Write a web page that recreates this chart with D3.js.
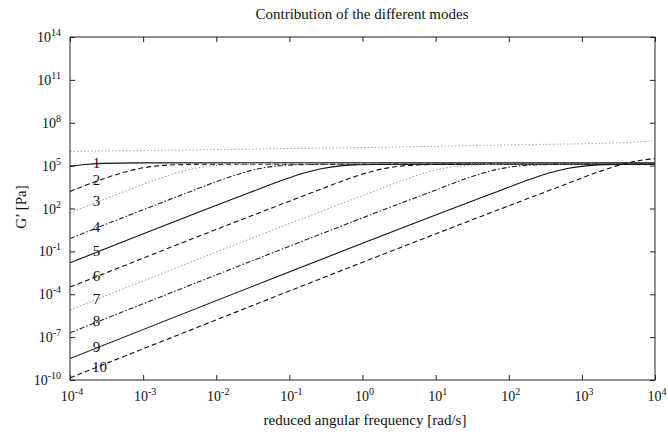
<!DOCTYPE html>
<html>
<head>
<meta charset="utf-8">
<script src="https://cdn.jsdelivr.net/npm/d3@7"></script>
<style>
  html, body { margin: 0; padding: 0; background: #fff; }
  svg { display: block; }
  text { font-family: "Liberation Serif", "DejaVu Serif", serif; fill: #111; }
</style>
</head>
<body>
<svg id="chart" width="668" height="440"></svg>
<script>
// Storage modulus G' of each relaxation mode versus reduced angular frequency.
const modeNames = ["1", "2", "3", "4", "5", "6", "7", "8", "9", "10"];

const mode1Freq = [1e-4, 1.585e-4, 2.82e-4, 8.91e-4, 1e4];
const mode1G    = [8.83e4, 1.205e5, 1.44e5, 1.57e5, 1.58e5];

const mode2Freq = [1e-4, 2.82e-4, 5.01e-4, 8.91e-4, 1.585e-3, 2.82e-3, 8.91e-3, 1e4];
const mode2G    = [1.57e3, 1.15e4, 3.03e4, 6.30e4, 9.57e4, 1.15e5, 1.25e5, 1.26e5];

const mode3Freq = [1e-4, 5.01e-4, 1.585e-3, 2.82e-3, 5.01e-3, 8.91e-3, 1.585e-2, 5.01e-2, 1e4];
const mode3G    = [50, 1.25e3, 1.15e4, 3.03e4, 6.30e4, 9.57e4, 1.15e5, 1.25e5, 1.26e5];

const mode4Freq = [1e-4, 3.98e-3, 1.26e-2, 2.24e-2, 3.98e-2, 7.08e-2, 0.126, 0.398, 1e4];
const mode4G    = [0.79, 1.25e3, 1.15e4, 3.03e4, 6.30e4, 9.57e4, 1.15e5, 1.25e5, 1.26e5];

const mode5Freq = [1e-4, 2.82e-2, 8.91e-2, 0.158, 0.282, 0.501, 0.891, 2.82, 1e4];
const mode5G    = [1.585e-2, 1.25e3, 1.15e4, 3.03e4, 6.30e4, 9.57e4, 1.15e5, 1.25e5, 1.26e5];

const mode6Freq = [1e-4, 0.2, 0.631, 1.12, 2.0, 3.55, 6.31, 20, 1e4];
const mode6G    = [3.16e-4, 1.25e3, 1.15e4, 3.03e4, 6.30e4, 9.57e4, 1.15e5, 1.25e5, 1.26e5];

const mode7Freq = [1e-4, 1.26, 3.98, 7.08, 12.6, 22.4, 39.8, 126, 1e4];
const mode7G    = [7.94e-6, 1.25e3, 1.15e4, 3.03e4, 6.30e4, 9.57e4, 1.15e5, 1.25e5, 1.26e5];

const mode8Freq = [1e-4, 7.94, 25.1, 44.7, 79.4, 141, 251, 794, 1e4];
const mode8G    = [2.0e-7, 1.25e3, 1.15e4, 3.03e4, 6.30e4, 9.57e4, 1.15e5, 1.25e5, 1.26e5];

const mode9Freq = [1e-4, 63.1, 200, 355, 631, 1122, 1995, 6310, 1e4];
const mode9G    = [3.16e-9, 1.25e3, 1.15e4, 3.03e4, 6.30e4, 9.57e4, 1.15e5, 1.25e5, 1.26e5];

const mode10Freq = [1e-4, 531, 1679, 2985, 5309, 1e4];
const mode10G    = [1.41e-10, 3.94e3, 3.62e4, 9.57e4, 1.99e5, 3.1e5];

// Overall G' curve drawn above the individual modes
const totalFreq = [1e-4, 1e-3, 1e-2, 0.1, 1, 10, 100, 1e3, 3162, 1e4];
const totalG    = [1.0e6, 1.15e6, 1.32e6, 1.55e6, 1.86e6, 2.24e6, 2.82e6, 3.39e6, 3.98e6, 5.37e6];

const xTickValues = [1e-4, 1e-3, 1e-2, 1e-1, 1e0, 1e1, 1e2, 1e3, 1e4];
const yTickValues = [1e-10, 1e-7, 1e-4, 1e-1, 1e2, 1e5, 1e8, 1e11, 1e14];

const modes = [
  [mode1Freq, mode1G], [mode2Freq, mode2G], [mode3Freq, mode3G], [mode4Freq, mode4G],
  [mode5Freq, mode5G], [mode6Freq, mode6G], [mode7Freq, mode7G], [mode8Freq, mode8G],
  [mode9Freq, mode9G], [mode10Freq, mode10G]
].map(([f, g], i) => ({ name: modeNames[i], points: f.map((w, j) => [w, g[j]]) }));

// Line style cycle: solid, dashed, dotted, dash-dot
const styleCycle = [
  { color: "#111", dash: null, width: 1.1 },
  { color: "#111", dash: "5,3", width: 1.1 },
  { color: "#9a9a9a", dash: "1.5,2", width: 1 },
  { color: "#222", dash: "5,2,1.5,2", width: 1.1 }
];

const frameLeft = 70, frameRight = 655, frameTop = 37, frameBottom = 380;
const svg = d3.select("#chart");

const x = d3.scaleLog().domain([1e-4, 1e4]).range([frameLeft, frameRight]);
const y = d3.scaleLog().domain([1e-10, 1e14]).range([frameBottom, frameTop]);

const line = d3.line()
  .x(d => x(d[0]))
  .y(d => y(d[1]))
  .curve(d3.curveMonotoneX);

svg.append("defs").append("clipPath").attr("id", "clip")
  .append("rect")
  .attr("x", frameLeft).attr("y", frameTop)
  .attr("width", frameRight - frameLeft).attr("height", frameBottom - frameTop);

const curves = svg.append("g").attr("clip-path", "url(#clip)");

curves.append("path")
  .datum(totalFreq.map((w, j) => [w, totalG[j]]))
  .attr("d", line)
  .attr("fill", "none")
  .attr("stroke", "#a8a8a8")
  .attr("stroke-width", 1)
  .attr("stroke-dasharray", "1.5,2");

modes.forEach((m, i) => {
  const s = styleCycle[i % styleCycle.length];
  curves.append("path")
    .datum(m.points)
    .attr("d", line)
    .attr("fill", "none")
    .attr("stroke", s.color)
    .attr("stroke-width", s.width)
    .attr("stroke-dasharray", s.dash);
});

// Mode numbers placed on their curves near the left edge
const labelFreq = 2.3e-4;
modes.forEach(m => {
  const px = m.points.map(p => x(p[0]));
  const py = m.points.map(p => y(p[1]));
  const along = d3.scaleLinear().domain(px).range(py);
  const lx = x(labelFreq) + (m.name.length > 1 ? 3 : 0);
  svg.append("text")
    .attr("x", lx)
    .attr("y", along(x(labelFreq)) + 4)
    .attr("text-anchor", "middle")
    .attr("font-size", 15)
    .text(m.name);
});

// Frame with inward ticks on all four sides
svg.append("rect")
  .attr("x", frameLeft).attr("y", frameTop)
  .attr("width", frameRight - frameLeft).attr("height", frameBottom - frameTop)
  .attr("fill", "none").attr("stroke", "#222").attr("stroke-width", 1);

function styleAxis(g) {
  g.select(".domain").remove();
  g.selectAll(".tick line").attr("stroke", "#222");
}

svg.append("g").attr("transform", `translate(0,${frameBottom})`)
  .call(d3.axisBottom(x).tickValues(xTickValues).tickSize(-5).tickFormat(""))
  .call(styleAxis);
svg.append("g").attr("transform", `translate(0,${frameTop})`)
  .call(d3.axisTop(x).tickValues(xTickValues).tickSize(-5).tickFormat(""))
  .call(styleAxis);
svg.append("g").attr("transform", `translate(${frameLeft},0)`)
  .call(d3.axisLeft(y).tickValues(yTickValues).tickSize(-5).tickFormat(""))
  .call(styleAxis);
svg.append("g").attr("transform", `translate(${frameRight},0)`)
  .call(d3.axisRight(y).tickValues(yTickValues).tickSize(-5).tickFormat(""))
  .call(styleAxis);

// Power-of-ten tick labels
const exponent = v => Math.round(Math.log10(v));

function powerLabel(sel, v) {
  sel.append("tspan").text("10");
  sel.append("tspan").attr("dy", -6).attr("font-size", 10).text(exponent(v));
}

xTickValues.forEach(v => {
  const t = svg.append("text")
    .attr("x", x(v) + 2)
    .attr("y", 401)
    .attr("text-anchor", "middle")
    .attr("font-size", 14);
  powerLabel(t, v);
});

yTickValues.forEach(v => {
  const t = svg.append("text")
    .attr("x", 61)
    .attr("y", y(v) + 5)
    .attr("text-anchor", "end")
    .attr("font-size", 14);
  powerLabel(t, v);
});

// Titles
svg.append("text")
  .attr("x", 362).attr("y", 19)
  .attr("text-anchor", "middle")
  .attr("font-size", 15)
  .text("Contribution of the different modes");

svg.append("text")
  .attr("x", 365).attr("y", 425)
  .attr("text-anchor", "middle")
  .attr("font-size", 15)
  .text("reduced angular frequency [rad/s]");

svg.append("text")
  .attr("transform", "translate(26,207) rotate(-90)")
  .attr("text-anchor", "middle")
  .attr("font-size", 15)
  .text("G’ [Pa]");
</script>
</body>
</html>
